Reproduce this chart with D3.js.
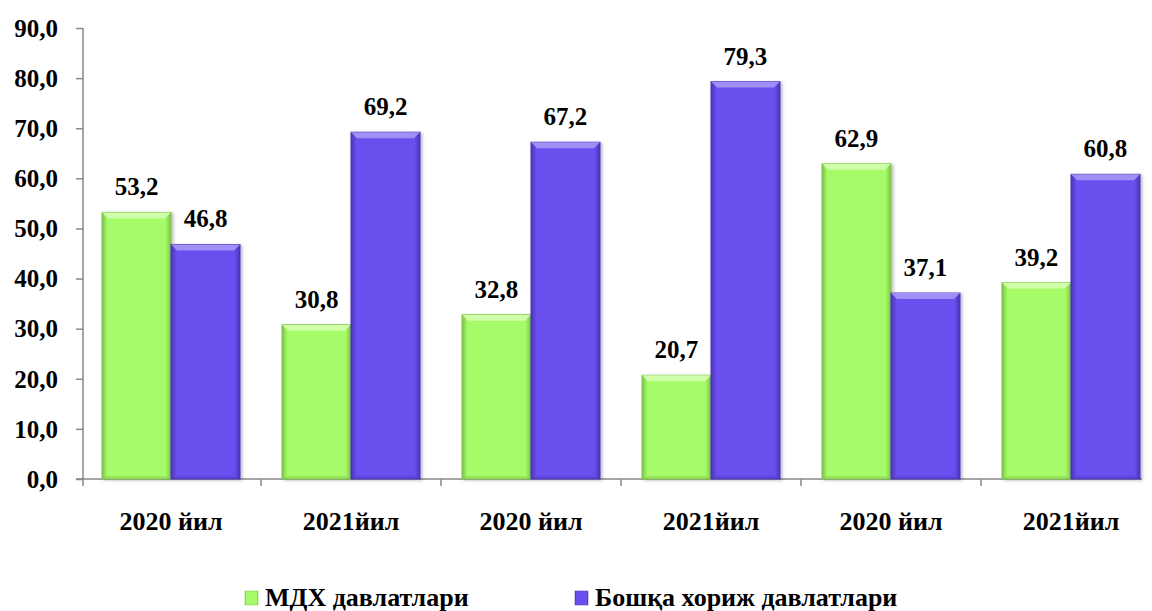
<!DOCTYPE html>
<html><head><meta charset="utf-8">
<script src="https://cdn.jsdelivr.net/npm/d3@7"></script>
<style>
body{margin:0;background:#fff;}
text{font-family:"Liberation Serif","Times New Roman",Tinos,"DejaVu Serif",serif;font-weight:bold;fill:#000;}
</style></head>
<body>
<svg id="chart" width="1152" height="611"></svg>
<script>
const categories = ["2020 йил","2021йил","2020 йил","2021йил","2020 йил","2021йил"];
const seriesNames = ["МДХ давлатлари","Бошқа хориж давлатлари"];
const cisValues = [53.2, 30.8, 32.8, 20.7, 62.9, 39.2];
const otherValues = [46.8, 69.2, 67.2, 79.3, 37.1, 60.8];
const yTicks = [0,10,20,30,40,50,60,70,80,90];

const colors = {base:["#a6fb68","#6a4fee"], light:["#d4ffb0","#a596f7"], dark:["#7cc24a","#4a34b8"]};
const fmt = v => d3.format(".1f")(v).replace(".", ",");

const svg = d3.select("#chart");
const y = d3.scaleLinear().domain([0,90]).range([479,28]);
const x0 = d3.scaleBand().domain(d3.range(categories.length)).range([81,1161]).paddingInner(0.2333).paddingOuter(0.1167);
const x1 = d3.scaleBand().domain([0,1]).range([0,x0.bandwidth()]);

const defs = svg.append("defs");
[0,1].forEach(s=>{
  const g = defs.append("linearGradient").attr("id","lg"+s).attr("x1","0").attr("x2","1").attr("y1","0").attr("y2","0");
  g.append("stop").attr("offset","0").attr("stop-color",colors.dark[s]);
  g.append("stop").attr("offset","0.08").attr("stop-color",colors.base[s]);
  g.append("stop").attr("offset","0.92").attr("stop-color",colors.base[s]);
  g.append("stop").attr("offset","1").attr("stop-color",colors.dark[s]);
});
const f = defs.append("filter").attr("id","sh").attr("x","-10%").attr("y","-10%").attr("width","130%").attr("height","130%");
f.append("feDropShadow").attr("dx",2).attr("dy",1).attr("stdDeviation",1.5).attr("flood-color","#000").attr("flood-opacity",0.25);

// y axis
const yAxis = svg.append("g").attr("transform","translate(83,0)")
  .call(d3.axisLeft(y).tickValues(yTicks).tickSize(7).tickFormat(fmt));
yAxis.attr("font-family",null).attr("font-size",null);
yAxis.select(".domain").attr("stroke","#888").attr("stroke-width",1.5).attr("d","M0,28V479");
yAxis.selectAll(".tick line").attr("stroke","#888").attr("stroke-width",1.5);
yAxis.selectAll(".tick text").attr("x",-25).attr("dy","0.33em").style("font-size","25px");

// x axis line and ticks
svg.append("line").attr("x1",76).attr("x2",1142).attr("y1",479).attr("y2",479).attr("stroke","#888").attr("stroke-width",1.5);
d3.range(1,categories.length).forEach(i=>{
  const xb = x0(i) - x0.step()*x0.paddingInner()/2;
  svg.append("line").attr("x1",xb).attr("x2",xb).attr("y1",479).attr("y2",486).attr("stroke","#888").attr("stroke-width",1.5);
});
svg.append("line").attr("x1",83).attr("x2",83).attr("y1",479).attr("y2",486).attr("stroke","#888").attr("stroke-width",1.5);

// category labels
svg.append("g").selectAll("text").data(categories).join("text")
  .attr("x",(d,i)=>x0(i)+x0.bandwidth()/2).attr("y",530)
  .attr("text-anchor","middle").style("font-size","26px").text(d=>d);

// bars
const data = categories.map((c,i)=>[cisValues[i], otherValues[i]]);
const groups = svg.append("g").selectAll("g").data(data).join("g")
  .attr("transform",(d,i)=>`translate(${x0(i)},0)`);
groups.each(function(vals){
  const g = d3.select(this);
  vals.forEach((v,s)=>{
    const bx = x1(s), bw = x1.bandwidth(), top = y(v), h = y(0)-top;
    const bar = g.append("g").attr("filter","url(#sh)");
    bar.append("rect").attr("x",bx).attr("y",top).attr("width",bw).attr("height",h)
      .attr("fill","url(#lg"+s+")").attr("stroke",colors.dark[s]).attr("stroke-width",1);
    const b = 6;
    bar.append("path").attr("d",`M${bx},${top}H${bx+bw}L${bx+bw-b},${top+b}H${bx+b}Z`)
      .attr("fill",colors.light[s]).attr("opacity",0.9);
    bar.append("path").attr("d",`M${bx},${top+h}H${bx+bw}L${bx+bw-b},${top+h-3}H${bx+b}Z`)
      .attr("fill",colors.dark[s]).attr("opacity",0.4);
    g.append("text").attr("x",bx+bw/2).attr("y",top-17).attr("text-anchor","middle")
      .style("font-size","25px").text(fmt(v));
  });
});

// legend
const legendX = [245, 575];
const lg = svg.append("g");
seriesNames.forEach((n,s)=>{
  lg.append("rect").attr("x",legendX[s]).attr("y",591).attr("width",13).attr("height",14)
    .attr("fill","url(#lg"+s+")").attr("stroke",colors.dark[s]).attr("stroke-width",0.5);
  lg.append("text").attr("x",legendX[s]+20).attr("y",606).style("font-size","26px").text(n);
});
</script>
</body></html>
